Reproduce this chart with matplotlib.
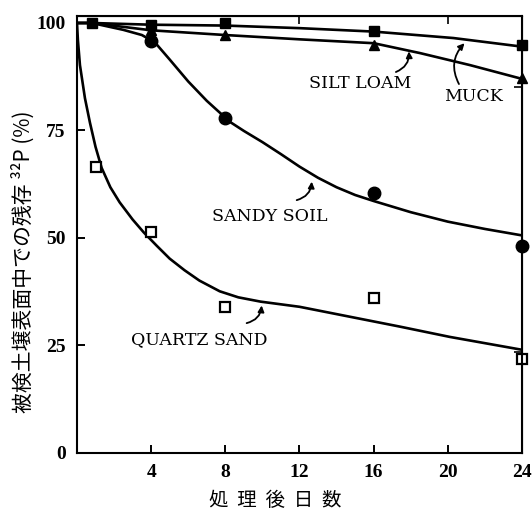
import matplotlib.pyplot as plt

# measured points (days after treatment, % of 32P remaining)
days_muck = [0.8, 4, 8, 16, 24]
muck = [100, 99.5, 100, 98.2, 94.9]
days_silt = [4, 8, 16, 24]
silt_loam = [98.3, 97.2, 94.9, 87.1]
days_sandy = [4, 8, 16, 24]
sandy_soil = [95.9, 78.0, 60.4, 48.1]
days_quartz = [1, 4, 8, 16, 24]
quartz_sand = [66.4, 51.5, 33.9, 36.0, 21.9]

# hand-fitted curves through each set
muck_fit_x = [0, 0.8, 4, 8, 12, 16, 20.3, 24]
muck_fit_y = [100, 100, 99.6, 99.4, 98.8, 98.0, 96.5, 94.5]
silt_fit_x = [0, 0.8, 4, 8, 12, 16, 18.5, 21.2, 24]
silt_fit_y = [100, 100, 98.3, 97.2, 96.2, 95.3, 93.0, 90.2, 87.0]
sandy_fit_x = [0, 0.8, 2.5, 3.5, 4.2, 5, 6, 7, 8.25, 9, 10, 11, 12, 13, 14, 15,
               16, 18, 20, 22, 24]
sandy_fit_y = [100, 100, 98.4, 97.2, 95.5, 91.5, 86.4, 81.9, 77.0, 74.9, 72.3,
               69.5, 66.6, 64.0, 61.8, 60.0, 58.6, 56.0, 53.8, 52.1, 50.6]
quartz_fit_x = [0, 0.05, 0.16, 0.43, 0.7, 1.0, 1.33, 1.8, 2.3, 3.0, 3.6, 4.3,
                5.0, 5.8, 6.6, 7.7, 8.7, 9.9, 12, 14.7, 17.4, 20.1, 24]
quartz_fit_y = [100, 96, 90.2, 82.5, 76.8, 71.2, 66.3, 61.8, 58.3, 54.3, 51.3,
                48.2, 45.2, 42.5, 40.1, 37.6, 36.2, 35.2, 34.0, 31.7, 29.4, 27.0,
                24.0]

x_ticks = [4, 8, 12, 16, 20, 24]
y_ticks = [0, 25, 50, 75, 100]

fig = plt.figure(figsize=(5.32, 5.14), dpi=100)
ax = fig.add_axes([0.1447, 0.1187, 0.8365, 0.8508])

line_kw = dict(color="black", lw=1.9, solid_capstyle="round",
               solid_joinstyle="round")
ax.plot(muck_fit_x, muck_fit_y, **line_kw)
ax.plot(silt_fit_x, silt_fit_y, **line_kw)
ax.plot(sandy_fit_x, sandy_fit_y, **line_kw)
ax.plot(quartz_fit_x, quartz_fit_y, **line_kw)

ax.plot(days_muck, muck, "s", color="black", ms=6.5, clip_on=False)
ax.plot(days_silt, silt_loam, "^", color="black", ms=7.5, clip_on=False)
ax.plot(days_sandy, sandy_soil, "o", color="black", ms=9, clip_on=False)
ax.plot(days_quartz, quartz_sand, "s", mfc="white", mec="black", mew=1.6,
        ms=6.5, clip_on=False)

ax.set_xlim(0, 24)
ax.set_ylim(0, 101.7)
ax.set_xticks(x_ticks)
ax.set_yticks(y_ticks)
tick_font = dict(family="Liberation Serif", weight="bold", size=14)
ax.set_xticklabels([str(t) for t in x_ticks], fontdict=tick_font)
ax.set_yticklabels([str(t) for t in y_ticks], fontdict=tick_font)
ax.tick_params(direction="in", length=6, width=1.4, pad=8)
for s in ax.spines.values():
    s.set_linewidth(1.5)

# extra short ticks on the top and right edges
top = ax.secondary_xaxis("top")
top.set_xticks([12, 20])
top.tick_params(direction="in", length=6, width=1.2, labeltop=False)
right = ax.secondary_yaxis("right")
right.set_yticks([23.5, 85])
right.tick_params(direction="in", length=6, width=1.2, labelright=False)

label_font = dict(family="DejaVu Serif", size=12.5, ha="center", va="center")
ax.text(15.3, 86.0, "SILT LOAM", **label_font)
ax.text(21.4, 82.8, "MUCK", **label_font)
ax.text(10.4, 54.9, "SANDY SOIL", **label_font)
ax.text(6.6, 26.3, "QUARTZ SAND", **label_font)

arrow = dict(arrowstyle="-|>", color="black", lw=1.3, mutation_scale=9,
             shrinkA=0, shrinkB=0)
ax.annotate("", xy=(17.9, 93.4), xytext=(17.2, 88.6),
            arrowprops=dict(connectionstyle="arc3,rad=0.35", **arrow))
ax.annotate("", xy=(20.9, 95.3), xytext=(20.6, 85.8),
            arrowprops=dict(connectionstyle="arc3,rad=-0.35", **arrow))
ax.annotate("", xy=(12.66, 63.1), xytext=(11.85, 58.8),
            arrowprops=dict(connectionstyle="arc3,rad=0.35", **arrow))
ax.annotate("", xy=(9.96, 34.3), xytext=(9.15, 30.2),
            arrowprops=dict(connectionstyle="arc3,rad=0.35", **arrow))

cjk = ["Noto Sans CJK JP", "DejaVu Sans"]
fig.text(23 / 532, 1 - 262 / 514, "被検土壌表面中での残存 ³²P (%)",
         family=cjk, size=15, rotation=90, ha="center", va="center")
fig.text(275 / 532, 1 - 500 / 514, "処  理  後  日  数",
         family=cjk, size=14, ha="center", va="center")

fig.savefig("out.png", dpi=100)
